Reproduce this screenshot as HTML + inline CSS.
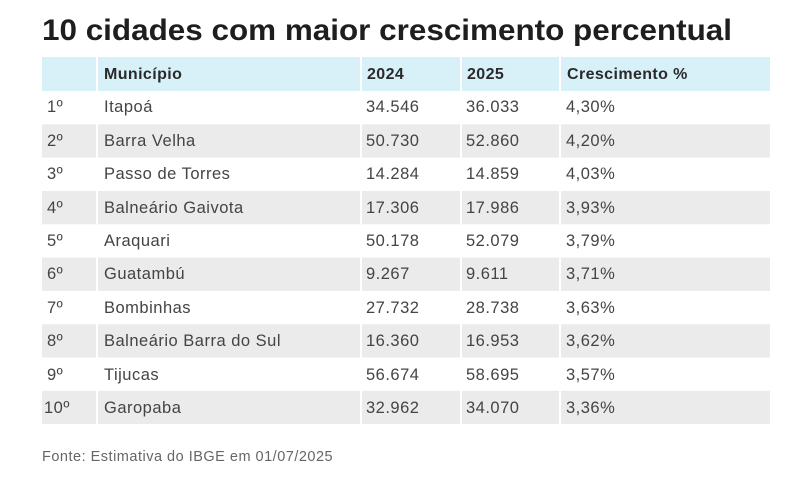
<!DOCTYPE html>
<html><head><meta charset="utf-8"><style>html,body{margin:0;padding:0;background:#fff}svg{display:block}</style></head>
<body>
<svg width="789" height="496" xmlns="http://www.w3.org/2000/svg" font-family="Liberation Sans, sans-serif">
<rect width="789" height="496" fill="#fff"/>
<text x="42" y="40" font-size="30" font-weight="bold" fill="#1e1e1e" textLength="690" lengthAdjust="spacingAndGlyphs">10 cidades com maior crescimento percentual</text>
<rect x="42" y="57" width="728" height="34" fill="#d8f1f9"/>
<g fill="#ebebeb">
<rect x="42" y="124.3" width="728" height="33.3"/>
<rect x="42" y="191" width="728" height="33.3"/>
<rect x="42" y="257.6" width="728" height="33.3"/>
<rect x="42" y="324.2" width="728" height="33.3"/>
<rect x="42" y="390.8" width="728" height="33.3"/>
</g>
<g stroke="#fff" stroke-width="2">
<line x1="97" y1="57" x2="97" y2="424"/>
<line x1="361" y1="57" x2="361" y2="424"/>
<line x1="461" y1="57" x2="461" y2="424"/>
<line x1="560" y1="57" x2="560" y2="424"/>
</g>
<g font-size="16" font-weight="bold" fill="#2a2a2a" letter-spacing="0.4">
<text x="104" y="79">Município</text><text x="367" y="79">2024</text><text x="467" y="79">2025</text><text x="567" y="79">Crescimento %</text>
</g>
<g font-size="16.5" fill="#444" letter-spacing="0.5">
<text x="47" y="112">1º</text><text x="104" y="112">Itapoá</text><text x="366" y="112">34.546</text><text x="466" y="112">36.033</text><text x="566" y="112">4,30%</text>
<text x="47" y="146">2º</text><text x="104" y="146">Barra Velha</text><text x="366" y="146">50.730</text><text x="466" y="146">52.860</text><text x="566" y="146">4,20%</text>
<text x="47" y="179">3º</text><text x="104" y="179">Passo de Torres</text><text x="366" y="179">14.284</text><text x="466" y="179">14.859</text><text x="566" y="179">4,03%</text>
<text x="47" y="213">4º</text><text x="104" y="213">Balneário Gaivota</text><text x="366" y="213">17.306</text><text x="466" y="213">17.986</text><text x="566" y="213">3,93%</text>
<text x="47" y="246">5º</text><text x="104" y="246">Araquari</text><text x="366" y="246">50.178</text><text x="466" y="246">52.079</text><text x="566" y="246">3,79%</text>
<text x="47" y="279">6º</text><text x="104" y="279">Guatambú</text><text x="366" y="279">9.267</text><text x="466" y="279">9.611</text><text x="566" y="279">3,71%</text>
<text x="47" y="313">7º</text><text x="104" y="313">Bombinhas</text><text x="366" y="313">27.732</text><text x="466" y="313">28.738</text><text x="566" y="313">3,63%</text>
<text x="47" y="346">8º</text><text x="104" y="346">Balneário Barra do Sul</text><text x="366" y="346">16.360</text><text x="466" y="346">16.953</text><text x="566" y="346">3,62%</text>
<text x="47" y="380">9º</text><text x="104" y="380">Tijucas</text><text x="366" y="380">56.674</text><text x="466" y="380">58.695</text><text x="566" y="380">3,57%</text>
<text x="44" y="413">10º</text><text x="104" y="413">Garopaba</text><text x="366" y="413">32.962</text><text x="466" y="413">34.070</text><text x="566" y="413">3,36%</text>
</g>
<text x="42" y="461" font-size="14.5" fill="#666" letter-spacing="0.5">Fonte: Estimativa do IBGE em 01/07/2025</text>
</svg>
</body></html>
